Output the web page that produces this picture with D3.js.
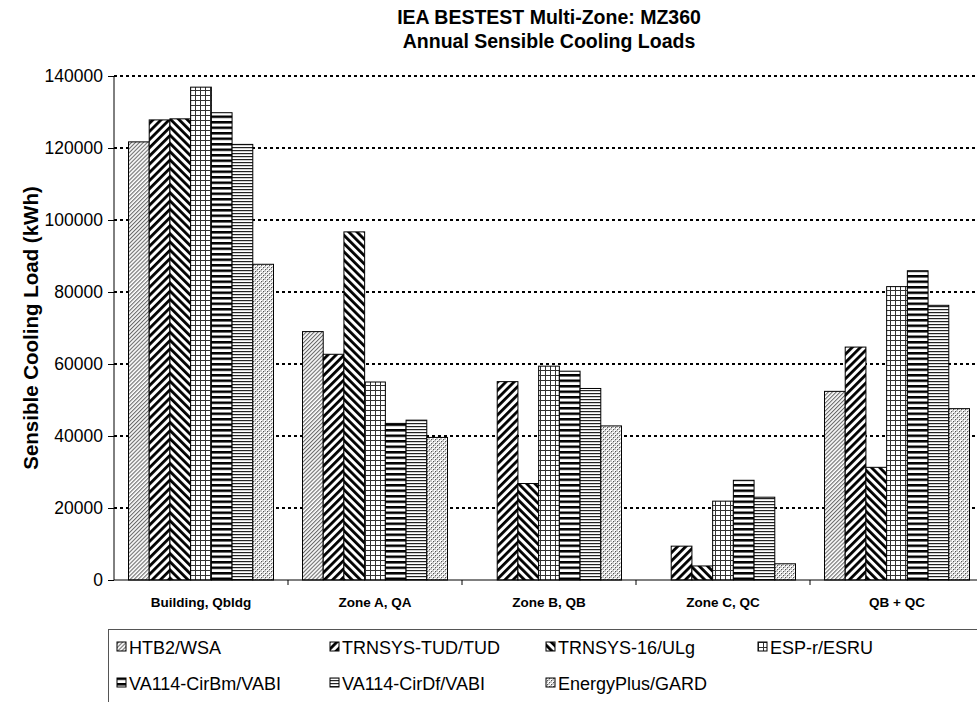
<!DOCTYPE html>
<html><head><meta charset="utf-8">
<script src="https://cdn.jsdelivr.net/npm/d3@7"></script>
<style>body{margin:0;background:#fff;overflow:hidden}</style></head>
<body>
<svg id="c" width="977" height="702"></svg>
<script>
const categories = ["Building, Qbldg", "Zone A, QA", "Zone B, QB", "Zone C, QC", "QB + QC"];
const seriesNames = ["HTB2/WSA", "TRNSYS-TUD/TUD", "TRNSYS-16/ULg", "ESP-r/ESRU", "VA114-CirBm/VABI", "VA114-CirDf/VABI", "EnergyPlus/GARD"];
const htb2 = [121700, 69000, null, null, 52400];
const trnsysTud = [127800, 62700, 55100, 9400, 64700];
const trnsys16 = [128100, 96700, 26800, 3900, 31300];
const espr = [136900, 55000, 59400, 21900, 81500];
const va114Bm = [129800, 43500, 58000, 27700, 85900];
const va114Df = [121000, 44400, 53200, 23000, 76300];
const energyPlus = [87700, 39600, 42800, 4500, 47600];
const yTicks = [0, 20000, 40000, 60000, 80000, 100000, 120000, 140000];
const titleLines = ["IEA BESTEST Multi-Zone: MZ360", "Annual Sensible Cooling Loads"];
const yTitle = "Sensible Cooling Load (kWh)";

const seriesValues = [htb2, trnsysTud, trnsys16, espr, va114Bm, va114Df, energyPlus];
const patIds = ["pHTB2", "pTUD", "pT16", "pESP", "pBm", "pDf", "pEP"];

const svg = d3.select("#c");
const FONT = "Arial, 'Liberation Sans', sans-serif";
const L = 114, R = 984, T = 76, B = 580;

const defs = svg.append("defs");
function pat(id, w, h, rot) {
  const p = defs.append("pattern").attr("id", id).attr("patternUnits", "userSpaceOnUse")
    .attr("width", w).attr("height", h);
  if (rot) p.attr("patternTransform", "rotate(" + rot + ")");
  p.append("rect").attr("width", w).attr("height", h).attr("fill", "#fff");
  return p;
}
// HTB2: fine "/" gray lines
let p = pat("pHTB2", 2.8, 10, 45);
p.append("rect").attr("x", 0).attr("width", 1.1).attr("height", 10).attr("fill", "#6a6a6a");
// TRNSYS-TUD: thick "/" stripes
p = pat("pTUD", 5.8, 10, 45);
p.append("rect").attr("x", 0).attr("width", 2.8).attr("height", 10).attr("fill", "#000");
// TRNSYS-16: thick "\" stripes
p = pat("pT16", 5.8, 10, -45);
p.append("rect").attr("x", 0).attr("width", 2.8).attr("height", 10).attr("fill", "#000");
// ESP: grid
p = pat("pESP", 5, 5, 0);
p.append("rect").attr("x", 0).attr("y", 0).attr("width", 1).attr("height", 5).attr("fill", "#333");
p.append("rect").attr("x", 0).attr("y", 0).attr("width", 5).attr("height", 1).attr("fill", "#333");
// VA114-Bm: thick horizontal stripes
p = pat("pBm", 10, 5.5, 0);
p.append("rect").attr("y", 0).attr("width", 10).attr("height", 2.5).attr("fill", "#000");
// VA114-Df: thin horizontal lines
p = pat("pDf", 10, 3, 0);
p.append("rect").attr("y", 0).attr("width", 10).attr("height", 1.2).attr("fill", "#222");
// EnergyPlus: checker
p = pat("pEP", 4, 4, 0);
p.append("rect").attr("width", 4).attr("height", 4).attr("fill", "#c8c8c8");
p.append("rect").attr("x", 0).attr("y", 0).attr("width", 2).attr("height", 2).attr("fill", "#fff");
p.append("rect").attr("x", 2).attr("y", 2).attr("width", 2).attr("height", 2).attr("fill", "#fff");
p.append("rect").attr("x", 1).attr("y", 1).attr("width", 1).attr("height", 1).attr("fill", "#555");
p.append("rect").attr("x", 3).attr("y", 3).attr("width", 1).attr("height", 1).attr("fill", "#555");

const x = d3.scaleBand().domain(categories).range([L, R]).padding(0);
const gap = 14.5;
const xb = d3.scaleBand().domain(seriesNames).range([gap, x.bandwidth() - gap]).padding(0);
const y = d3.scaleLinear().domain([0, 140000]).range([B, T]);

// title
svg.append("g").selectAll("text").data(titleLines).join("text")
  .attr("x", 549).attr("y", (d, i) => 24 + i * 24)
  .attr("text-anchor", "middle").attr("font-family", FONT).attr("font-weight", "bold")
  .attr("font-size", 19.5).text(d => d);

// gridlines
svg.append("g").selectAll("line").data(yTicks.filter(v => v > 0)).join("line")
  .attr("x1", L).attr("x2", 977).attr("y1", d => y(d)).attr("y2", d => y(d))
  .attr("stroke", "#000").attr("stroke-width", 2).attr("stroke-dasharray", "3,3");

// bars
const groups = svg.append("g").selectAll("g").data(seriesNames).join("g")
  .attr("fill", (d, i) => "url(#" + patIds[i] + ")");
groups.each(function (s, si) {
  d3.select(this).selectAll("rect")
    .data(categories.map((c, ci) => ({ c, v: seriesValues[si][ci] })).filter(d => d.v != null))
    .join("rect")
    .attr("x", d => x(d.c) + xb(s))
    .attr("width", xb.bandwidth())
    .attr("y", d => y(d.v))
    .attr("height", d => B - y(d.v))
    .attr("stroke", "#000").attr("stroke-width", 1);
});

// y axis
const yAxis = d3.axisLeft(y).tickValues(yTicks).tickSize(6).tickPadding(5).tickFormat(d3.format("d"));
const gy = svg.append("g").attr("transform", "translate(" + L + ",0)").call(yAxis);
gy.select(".domain").attr("stroke", "#000").attr("d", "M0," + T + "V" + B);
gy.selectAll("text").attr("font-family", FONT).attr("font-size", 17.5).attr("fill", "#000");

// x axis
const xAxis = d3.axisBottom(x).tickSize(0).tickPadding(17);
const gx = svg.append("g").attr("transform", "translate(0," + B + ")").call(xAxis);
gx.select(".domain").attr("stroke", "#000").attr("d", "M" + L + ",0H" + R);
gx.selectAll("text").attr("font-family", FONT).attr("font-size", 13.5).attr("font-weight", "bold").attr("fill", "#000");
gx.append("g").selectAll("line").data(categories.slice(1)).join("line")
  .attr("x1", d => x(d)).attr("x2", d => x(d)).attr("y1", 0).attr("y2", 5).attr("stroke", "#000");

// y title
svg.append("text").attr("transform", "translate(38," + ((T + B) / 2) + ") rotate(-90)")
  .attr("text-anchor", "middle").attr("font-family", FONT).attr("font-weight", "bold")
  .attr("font-size", 20.5).text(yTitle);

// legend
svg.append("rect").attr("x", 108.5).attr("y", 629.5).attr("width", 900).attr("height", 100)
  .attr("fill", "#fff").attr("stroke", "#555").attr("stroke-width", 1);
const colX = [117, 330, 546, 758];
const leg = svg.append("g").selectAll("g").data(seriesNames).join("g")
  .attr("transform", (d, i) => "translate(" + colX[i % 4] + "," + (647 + Math.floor(i / 4) * 36) + ")");
leg.append("rect").attr("x", 0).attr("y", -5).attr("width", 9).attr("height", 9)
  .attr("fill", (d, i) => "url(#" + patIds[i] + ")").attr("stroke", "#000").attr("stroke-width", 1);
leg.append("text").attr("x", 12).attr("y", 6.5).attr("font-family", FONT).attr("font-size", 18)
  .text(d => d);
</script>
</body></html>
